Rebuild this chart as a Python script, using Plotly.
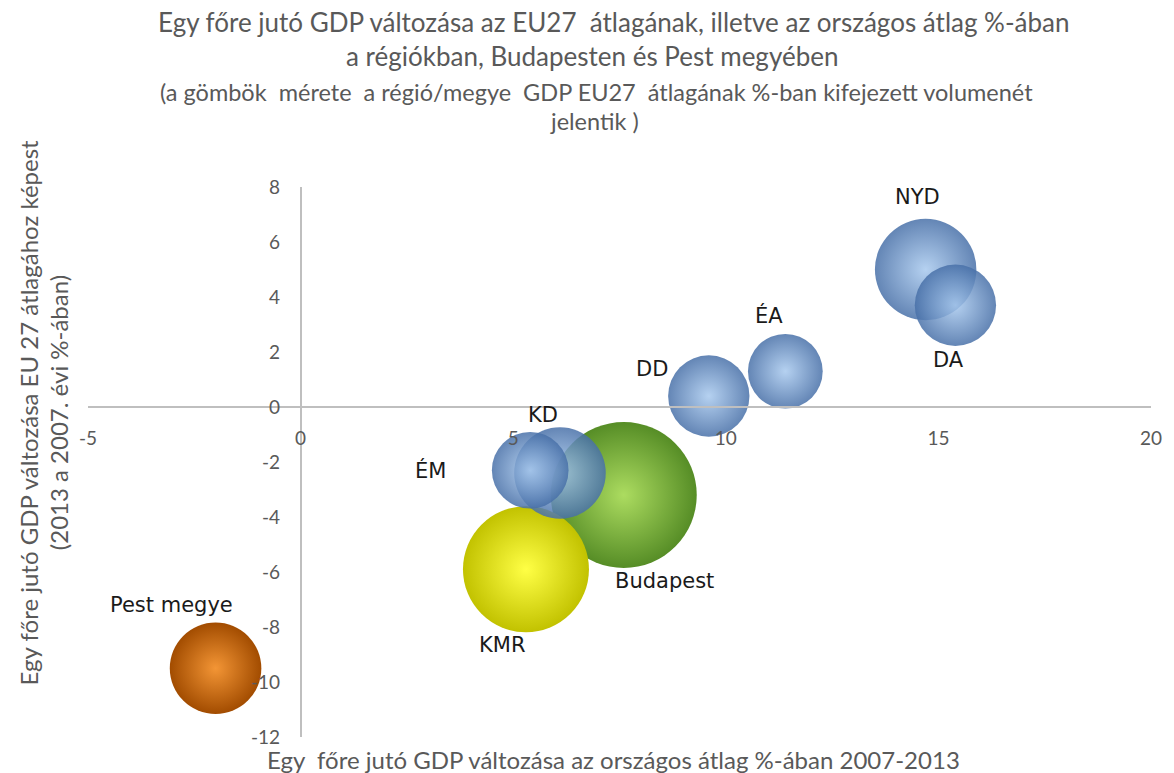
import plotly.graph_objects as go

# ---- data ----
regions = ["NYD", "DA", "ÉA", "DD", "KD", "ÉM", "Budapest", "KMR", "Pest megye"]
x_orszagos = [14.7, 15.4, 11.4, 9.6, 6.1, 5.4, 7.6, 5.3, -2.0]      # % of national avg change 2007-2013
y_eu27 = [5.0, 3.7, 1.3, 0.4, -2.4, -2.3, -3.2, -5.9, -9.5]         # change vs EU27 avg
meret = [70, 45, 38, 45, 57, 40, 145, 108, 57]                       # GDP volume, % of EU27 avg (bubble size)

x_ticks = [-5, 0, 5, 10, 15, 20]
x_ticktext = ["-5", "0", "5", "10", "15", "20"]
y_ticks = [-12, -10, -8, -6, -4, -2, 0, 2, 4, 6, 8]
y_ticktext = ["-12", "-10", "-8", "-6", "-4", "-2", "0", "2", "4", "6", "8"]

title_lines = [
    "Egy főre jutó GDP változása az EU27  átlagának, illetve az országos átlag %-ában",
    "a régiókban, Budapesten és Pest megyében",
]
subtitle_lines = [
    "(a gömbök  mérete  a régió/megye  GDP EU27  átlagának %-ban kifejezett volumenét",
    "jelentik )",
]
x_title = "Egy  főre jutó GDP változása az országos átlag %-ában 2007-2013"
y_title_lines = [
    "Egy főre jutó GDP változása EU 27 átlagához képest",
    "(2013 a 2007. évi %-ában)",
]

# ---- styles ----
W, H = 1174, 773
ML, MR, MT, MB = 88, 16, 187, 36
MAX_DIAM = 146

# (edge colour, centre colour, opacity)
palette = {
    "Budapest": ("#568d26", "#acdc60", 1.0),
    "KMR": ("#c2c200", "#ffff45", 1.0),
    "Pest megye": ("#a24c00", "#f39535", 1.0),
}
blue = ("#4870a8", "#a8c9ee", 0.85)

label_shift = {
    "NYD": (-8, 73), "DA": (-7, -55), "ÉA": (-16, 56), "DD": (-57, 27),
    "KD": (-17, 58), "ÉM": (-100, 0), "Budapest": (41, -86), "KMR": (-24, -76),
    "Pest megye": (-44, 63),
}

draw_order = ["Budapest", "KMR", "Pest megye", "NYD", "DA", "DD", "ÉA", "KD", "ÉM"]
idx = [regions.index(r) for r in draw_order]

xs = [x_orszagos[i] for i in idx]
ys = [y_eu27[i] for i in idx]
ss = [meret[i] for i in idx]
edge = [palette.get(regions[i], blue)[0] for i in idx]
centre = [palette.get(regions[i], blue)[1] for i in idx]
ops = [palette.get(regions[i], blue)[2] for i in idx]

sizeref = 2.0 * max(meret) / (MAX_DIAM ** 2)

fig = go.Figure()
fig.add_trace(go.Scatter(
    x=xs, y=ys, mode="markers",
    marker=dict(
        size=ss, sizemode="area", sizeref=sizeref,
        color=edge, opacity=ops,
        gradient=dict(type="radial", color=centre),
        line=dict(width=0),
    ),
    hovertext=[regions[i] for i in idx],
    showlegend=False,
))

annotations = []
for r, xv, yv in zip(regions, x_orszagos, y_eu27):
    dx, dy = label_shift[r]
    annotations.append(dict(
        x=xv, y=yv, xref="x", yref="y", text=r, showarrow=False,
        xshift=dx, yshift=dy,
        font=dict(family="DejaVu Sans", size=21, color="#1a1a1a"),
    ))

pw = W - ML - MR
ph = H - MT - MB


def px_x(p):
    return (p - ML) / pw


def px_y(p):
    return (H - MB - p) / ph


title_font = "Lato, Open Sans, sans-serif"
grey = "#595959"
paper_annots = [
    dict(text=title_lines[0], x=px_x(617), y=px_y(22),
         font=dict(family=title_font, size=26, color=grey)),
    dict(text=title_lines[1], x=px_x(595), y=px_y(56),
         font=dict(family=title_font, size=26, color=grey)),
    dict(text=subtitle_lines[0], x=px_x(600), y=px_y(92),
         font=dict(family=title_font, size=23.5, color=grey)),
    dict(text=subtitle_lines[1], x=px_x(598), y=px_y(121),
         font=dict(family=title_font, size=23.5, color=grey)),
    dict(text=x_title, x=px_x(617), y=px_y(759),
         font=dict(family=title_font, size=24, color=grey)),
    dict(text=y_title_lines[0], x=px_x(28), y=px_y(413), textangle=-90,
         font=dict(family=title_font, size=24, color=grey)),
    dict(text=y_title_lines[1], x=px_x(58), y=px_y(413), textangle=-90,
         font=dict(family=title_font, size=24, color=grey)),
]
for a in paper_annots:
    a.update(xref="paper", yref="paper", showarrow=False,
             xanchor="center", yanchor="middle")
annotations += paper_annots

xr = [x_ticks[0], x_ticks[-1]]
yr = [y_ticks[0], y_ticks[-1]]
x_zero_pos = (0 - yr[0]) / (yr[1] - yr[0])
y_zero_pos = (0 - xr[0]) / (xr[1] - xr[0])

fig.update_layout(
    width=W, height=H,
    margin=dict(l=ML, r=MR, t=MT, b=MB, pad=0),
    paper_bgcolor="white", plot_bgcolor="white",
    annotations=annotations,
    xaxis=dict(
        range=xr, tickvals=x_ticks, ticktext=x_ticktext,
        showgrid=False, zeroline=False,
        showline=True, linecolor="#bfbfbf", linewidth=1.5,
        anchor="free", position=x_zero_pos, ticks="",
        ticklabelstandoff=14,
        tickfont=dict(family=title_font, size=19, color=grey),
    ),
    yaxis=dict(
        range=yr, tickvals=y_ticks, ticktext=y_ticktext,
        showgrid=False, zeroline=False,
        showline=True, linecolor="#bfbfbf", linewidth=1.5,
        anchor="free", position=y_zero_pos, ticks="",
        ticklabelstandoff=16,
        tickfont=dict(family=title_font, size=19, color=grey),
    ),
)

fig.write_html(
    "out.html",
    config={"displayModeBar": False},
    post_script="document.body.style.margin='0px';document.body.style.overflow='hidden';",
)
